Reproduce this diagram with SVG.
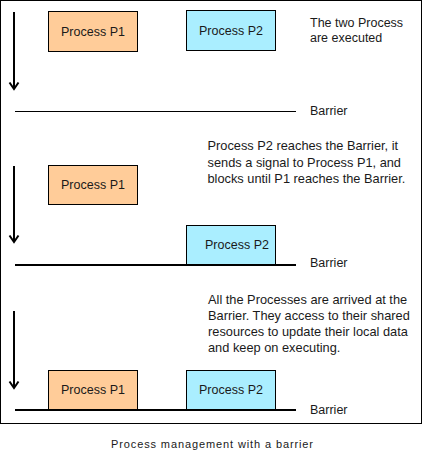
<svg xmlns="http://www.w3.org/2000/svg" width="423" height="453" viewBox="0 0 423 453">
<style>
text{font-family:"Liberation Sans",Arial,sans-serif;font-size:12.5px;fill:#1a1a1a}
.d{font-size:12.8px}
.p1{fill:#FFCC99;stroke:#000;stroke-width:1}
.p2{fill:#AAEEFF;stroke:#000;stroke-width:1}
.c{text-anchor:middle}
.arrow{stroke:#000;stroke-width:2;fill:none;marker-end:url(#ah)}
.bar{stroke:#000}
</style>
<defs>
<marker id="ah" markerUnits="userSpaceOnUse" markerWidth="12" markerHeight="12" refX="8" refY="6" orient="auto" viewBox="0 0 12 12">
<path d="M1.5,1.5 L8,6 L1.5,10.5" fill="none" stroke="#000" stroke-width="2"/>
</marker>
</defs>
<rect x="0.5" y="0.5" width="421" height="423" fill="#fff" stroke="#000"/>
<g id="connectors">
<line class="arrow" x1="14" y1="12" x2="14" y2="89"/>
<line class="arrow" x1="14" y1="166" x2="14" y2="242"/>
<line class="arrow" x1="14" y1="311" x2="14" y2="388"/>
<line class="bar" x1="15" y1="111.5" x2="296" y2="111.5" stroke-width="1"/>
<line class="bar" x1="15" y1="265" x2="296" y2="265" stroke-width="2"/>
<line class="bar" x1="15" y1="410" x2="296" y2="410" stroke-width="2"/>
</g>
<g id="p1-a"><rect class="p1" x="48.5" y="11.5" width="89" height="40"/><text class="c" x="93" y="35.5">Process P1</text></g>
<g id="p2-a"><rect class="p2" x="186.5" y="10.5" width="89" height="40"/><text class="c" x="231" y="34.5">Process P2</text></g>
<g id="p1-b"><rect class="p1" x="48.5" y="165.5" width="89" height="39"/><text class="c" x="93" y="188.5">Process P1</text></g>
<g id="p2-b"><rect class="p2" x="186.5" y="225.5" width="89" height="39"/><text x="205" y="248.5">Process P2</text></g>
<g id="p1-c"><rect class="p1" x="48.5" y="370.5" width="89" height="39"/><text class="c" x="93" y="393.5">Process P1</text></g>
<g id="p2-c"><rect class="p2" x="186.5" y="370.5" width="89" height="39"/><text class="c" x="231" y="393.5">Process P2</text></g>
<g id="labels">
<text x="310" y="114.5">Barrier</text>
<text x="310" y="267">Barrier</text>
<text x="310" y="413.5">Barrier</text>
<text x="310" y="26.5">The two Process</text>
<text x="310" y="41.5">are executed</text>
<text class="d" x="207.5" y="150">Process P2 reaches the Barrier, it</text>
<text class="d" x="207.5" y="166.5">sends a signal to Process P1, and</text>
<text class="d" x="207.5" y="183">blocks until P1 reaches the Barrier.</text>
<text class="d" x="208" y="303.5">All the Processes are arrived at the</text>
<text class="d" x="208" y="319.5">Barrier. They access to their shared</text>
<text class="d" x="208" y="335.5">resources to update their local data</text>
<text class="d" x="208" y="351.5">and keep on executing.</text>
<text x="111" y="447.5" style="font-size:11px" textLength="202" lengthAdjust="spacing">Process management with a barrier</text>
</g>
</svg>
